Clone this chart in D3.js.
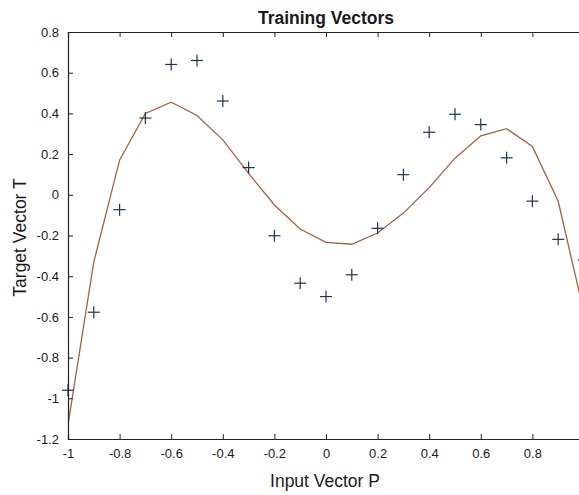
<!DOCTYPE html>
<html>
<head>
<meta charset="utf-8">
<script src="https://cdn.jsdelivr.net/npm/d3@7/dist/d3.min.js"></script>
<style>
  html, body { margin: 0; padding: 0; background: #fff; }
  svg { display: block; }
  text { font-family: "Liberation Sans", Arial, Helvetica, sans-serif; fill: #1a1a1a; }
</style>
</head>
<body>
<script>
// Training inputs P and targets T
const inputP = [-1, -0.9, -0.8, -0.7, -0.6, -0.5, -0.4, -0.3, -0.2, -0.1, 0,
                0.1, 0.2, 0.3, 0.4, 0.5, 0.6, 0.7, 0.8, 0.9, 1];
const targetT = [-0.9602, -0.5770, -0.0729, 0.3771, 0.6405, 0.6600, 0.4609, 0.1336,
                 -0.2013, -0.4344, -0.5000, -0.3930, -0.1647, 0.0988, 0.3072, 0.3960,
                 0.3449, 0.1816, -0.0312, -0.2189, -0.3201];
// Network response evaluated at the same inputs
const networkY = [-1.13, -0.33, 0.17, 0.40, 0.455, 0.39, 0.27, 0.105, -0.05, -0.168,
                  -0.234, -0.243, -0.188, -0.09, 0.035, 0.18, 0.29, 0.325, 0.238, -0.032, -0.58];

// Tick positions; labels are drawn for those that fall inside the figure
const xTicks = [-1, -0.8, -0.6, -0.4, -0.2, 0, 0.2, 0.4, 0.6, 0.8, 1];
const xTickLabels = ["-1", "-0.8", "-0.6", "-0.4", "-0.2", "0", "0.2", "0.4", "0.6", "0.8", ""];
const yTicks = [-1.2, -1, -0.8, -0.6, -0.4, -0.2, 0, 0.2, 0.4, 0.6, 0.8];
const yTickLabels = ["-1.2", "-1", "-0.8", "-0.6", "-0.4", "-0.2", "0", "0.2", "0.4", "0.6", "0.8"];

const W = 579, H = 495;
const plot = { left: 68, right: 584, top: 32, bottom: 439 };

const svg = d3.select("body").append("svg").attr("width", W).attr("height", H);

const x = d3.scaleLinear().domain([-1, 1]).range([plot.left, plot.right]);
const y = d3.scaleLinear().domain([-1.2, 0.8]).range([plot.bottom, plot.top]);

// Clip for data marks
svg.append("clipPath").attr("id", "plotclip")
  .append("rect")
  .attr("x", plot.left).attr("y", plot.top)
  .attr("width", plot.right - plot.left).attr("height", plot.bottom - plot.top);

// Network output line
const line = d3.line().x((d, i) => x(inputP[i])).y(d => y(d));
svg.append("path")
  .datum(networkY)
  .attr("clip-path", "url(#plotclip)")
  .attr("fill", "none")
  .attr("stroke", "#a5623f")
  .attr("stroke-width", 1.3)
  .attr("d", line);

// Target markers (+)
const s = 6;
const marks = svg.append("g").attr("stroke", "#1b3550").attr("stroke-width", 1.2);
inputP.forEach((p, i) => {
  const cx = x(p), cy = y(targetT[i]);
  marks.append("line").attr("x1", cx - s).attr("x2", cx + s).attr("y1", cy).attr("y2", cy);
  marks.append("line").attr("x1", cx).attr("x2", cx).attr("y1", cy - s).attr("y2", cy + s);
});

// Axes: ticks pointing inward, box outline
const axisBottom = d3.axisBottom(x).tickValues(xTicks).tickSize(-5).tickPadding(10)
  .tickFormat((d, i) => xTickLabels[i]);
const axisTop = d3.axisTop(x).tickValues(xTicks).tickSize(-5).tickFormat("");
const axisLeft = d3.axisLeft(y).tickValues(yTicks).tickSize(-5).tickPadding(9)
  .tickFormat((d, i) => yTickLabels[i]);
const axisRight = d3.axisRight(y).tickValues(yTicks).tickSize(-5).tickFormat("");

const gB = svg.append("g").attr("transform", `translate(0,${plot.bottom})`).call(axisBottom);
const gT = svg.append("g").attr("transform", `translate(0,${plot.top})`).call(axisTop);
const gL = svg.append("g").attr("transform", `translate(${plot.left},0)`).call(axisLeft);
const gR = svg.append("g").attr("transform", `translate(${plot.right},0)`).call(axisRight);

[gB, gT, gL, gR].forEach(g => {
  g.selectAll(".domain").attr("stroke", "#222").attr("stroke-width", 1.2);
  g.selectAll(".tick line").attr("stroke", "#222").attr("stroke-width", 1);
  g.selectAll("text").attr("font-size", 13).attr("fill", "#1a1a1a")
    .style("font-family", '"Liberation Sans", Arial, sans-serif');
});

// Title and axis labels
svg.append("text")
  .attr("x", (plot.left + plot.right) / 2).attr("y", 24)
  .attr("text-anchor", "middle")
  .attr("font-size", 17.5).attr("font-weight", "bold")
  .text("Training Vectors");

svg.append("text")
  .attr("x", (plot.left + plot.right) / 2 - 1).attr("y", 487)
  .attr("text-anchor", "middle")
  .attr("font-size", 17.5)
  .text("Input Vector P");

svg.append("text")
  .attr("transform", `translate(26,${(plot.top + plot.bottom) / 2 + 2}) rotate(-90)`)
  .attr("text-anchor", "middle")
  .attr("font-size", 17.5)
  .text("Target Vector T");
</script>
</body>
</html>
